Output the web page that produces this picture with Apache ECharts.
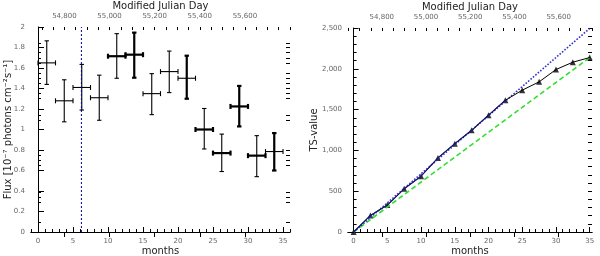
<!DOCTYPE html>
<html><head><meta charset="utf-8">
<script src="https://cdn.jsdelivr.net/npm/echarts@6/dist/echarts.min.js"></script>
<style>html,body{margin:0;padding:0;background:#fff}#c{width:600px;height:256px}</style>
</head><body><div id="c"></div>
<script>
// ---------- data: left panel (flux light curve) ----------
const binMonths = [1.25, 3.75, 6.25, 8.75, 11.25, 13.75, 16.25, 18.75, 21.25, 23.75, 26.25, 28.75, 31.25, 33.75];
const binHalfWidth = [1.25, 1.25, 1.25, 1.25, 1.25, 1.25, 1.25, 1.25, 1.25, 1.25, 1.25, 1.25, 1.25, 1.25];
const flux = [1.65, 1.28, 1.41, 1.31, 1.715, 1.73, 1.35, 1.565, 1.50, 1.00, 0.77, 1.225, 0.745, 0.785];
const fluxLow = [1.44, 1.075, 1.19, 1.09, 1.50, 1.505, 1.145, 1.36, 1.30, 0.81, 0.59, 1.03, 0.54, 0.60];
const fluxHigh = [1.865, 1.485, 1.635, 1.53, 1.935, 1.945, 1.545, 1.765, 1.72, 1.205, 0.955, 1.425, 0.94, 0.965];
const flareMonth = 6.2;
// style flags (bold bars)
const boldH = [0,0,0,0,1,1,0,0,0,1,1,1,1,0];
const boldV = [0,0,0,0,0,1,0,0,1,0,0,1,0,1];

// ---------- data: right panel (cumulative TS) ----------
const tsMonths = [0, 2.5, 5, 7.5, 10, 12.5, 15, 17.5, 20, 22.5, 25, 27.5, 30, 32.5, 35];
const tsValues = [0, 203, 330, 529, 684, 908, 1083, 1246, 1432, 1615, 1738, 1840, 1991, 2081, 2138];
const earlyCount = 10; // points drawn with the navy overlay
const fitSteep = [[0, 0], [35, 2495]];
const fitShallow = [[0, 0], [35, 2138]];

// ---------- tick labels ----------
const monthTicks = [0, 5, 10, 15, 20, 25, 30, 35];
const mjdLabels = [54800, 55000, 55200, 55400, 55600];
const fluxTicks = [0, 0.2, 0.4, 0.6, 0.8, 1, 1.2, 1.4, 1.6, 1.8, 2];
const fluxMinorTicks = [1.845, 1.8, 1.75, 1.70, 1.65, 1.546, 1.497, 1.449, 1.40, 1.351, 1.302, 1.14, 1.09, 0.80, 0.75, 0.70, 0.65, 0.39, 0.34, 0.295, 0.10];
const tsTicks = [0, 500, 1000, 1500, 2000, 2500];

const range = (a, b, s) => { const r = []; for (let v = a; v <= b + 1e-9; v += s) r.push(+v.toFixed(4)); return r; };
const fmtComma = v => String(Math.round(v)).replace(/\B(?=(\d{3})+(?!\d))/g, ',');

const FONT = 'DejaVu Sans';
const lbl = {fontSize: 7, color: '#666', fontFamily: FONT};
const nameStyle = {fontSize: 10, color: '#222', fontFamily: FONT};
const axLine = {show: true, lineStyle: {color: '#000', width: 1}};

function xAxes(grid, min, max, mjdMin, mjdMax, monthMinor) {
  return [
    {type: 'value', gridIndex: grid, position: 'bottom', min, max, name: 'months', nameLocation: 'middle', nameGap: 14, nameMoveOverlap: false, nameTextStyle: nameStyle,
     axisLine: axLine, splitLine: {show: false},
     axisLabel: Object.assign({customValues: monthTicks, margin: 6}, lbl),
     axisTick: {inside: true, length: 5, customValues: monthTicks, lineStyle: {color: '#000'}}},
    {type: 'value', gridIndex: grid, position: 'bottom', min, max, axisLine: {show: false}, splitLine: {show: false},
     axisLabel: {show: false}, axisTick: {inside: true, length: 3, customValues: monthMinor, lineStyle: {color: '#000'}}},
    {type: 'value', gridIndex: grid, position: 'top', min: mjdMin, max: mjdMax, name: 'Modified Julian Day', nameLocation: 'middle', nameGap: 16, nameMoveOverlap: false, nameTextStyle: nameStyle,
     axisLine: axLine, splitLine: {show: false},
     axisLabel: Object.assign({customValues: mjdLabels, margin: 7, formatter: fmtComma}, lbl),
     axisTick: {inside: true, length: 5, customValues: mjdLabels, lineStyle: {color: '#000'}}},
    {type: 'value', gridIndex: grid, position: 'top', min: mjdMin, max: mjdMax, axisLine: {show: false}, splitLine: {show: false},
     axisLabel: {show: false}, axisTick: {inside: true, length: 3, customValues: range(Math.ceil(mjdMin / 50) * 50, mjdMax, 50), lineStyle: {color: '#000'}}}
  ];
}

const option = {
  animation: false,
  backgroundColor: '#fff',
  grid: [
    {left: 31, top: 27, width: 259, height: 205, outerBoundsMode: 'none', containLabel: false},
    {left: 348, top: 28, width: 244, height: 204, outerBoundsMode: 'none', containLabel: false}
  ],
  xAxis: [
    ...xAxes(0, -1, 36, 54652, 55800, range(-1, 36, 1)),
    ...xAxes(1, -0.83, 35.34, 54647, 55751, range(0, 35, 1))
  ],
  yAxis: [
    {type: 'value', gridIndex: 0, position: 'left', min: 0, max: 2, name: 'Flux [10⁻⁷ photons cm⁻²s⁻¹]', nameLocation: 'middle', nameGap: 18, nameMoveOverlap: false, nameTextStyle: nameStyle,
     axisLine: axLine, splitLine: {show: false},
     axisLabel: Object.assign({customValues: fluxTicks, margin: 6, formatter: v => String(+v.toFixed(1))}, lbl),
     axisTick: {inside: true, length: 6, customValues: fluxTicks, lineStyle: {color: '#000'}}},
    {type: 'value', gridIndex: 0, position: 'left', min: 0, max: 2, axisLine: {show: false}, splitLine: {show: false},
     axisLabel: {show: false}, axisTick: {inside: true, length: 3, customValues: fluxMinorTicks, lineStyle: {color: '#000'}}},
    {type: 'value', gridIndex: 0, position: 'right', min: 0, max: 2, axisLine: {show: false}, splitLine: {show: false},
     axisLabel: {show: false}, axisTick: {inside: true, length: 4, customValues: fluxMinorTicks, lineStyle: {color: '#000'}}},
    {type: 'value', gridIndex: 1, position: 'left', min: 0, max: 2500, name: 'TS-value', nameLocation: 'middle', nameGap: 29, nameMoveOverlap: false, nameTextStyle: nameStyle,
     axisLine: axLine, splitLine: {show: false},
     axisLabel: Object.assign({customValues: tsTicks, margin: 6, formatter: fmtComma}, lbl),
     axisTick: {inside: true, length: 5, customValues: tsTicks, lineStyle: {color: '#000'}}},
    {type: 'value', gridIndex: 1, position: 'left', min: 0, max: 2500, axisLine: {show: false}, splitLine: {show: false},
     axisLabel: {show: false}, axisTick: {inside: true, length: 3, customValues: range(0, 2500, 100), lineStyle: {color: '#000'}}},
    {type: 'value', gridIndex: 1, position: 'right', min: 0, max: 2500, axisLine: {show: false}, splitLine: {show: false},
     axisLabel: {show: false}, axisTick: {inside: true, length: 4, customValues: range(0, 2500, 100), lineStyle: {color: '#000'}}}
  ],
  series: [
    {type: 'line', xAxisIndex: 0, yAxisIndex: 0, data: [[flareMonth, 0], [flareMonth, 2]], symbol: 'none',
     lineStyle: {color: '#000090', width: 1, type: [2, 2]}, silent: true},
    {type: 'custom', xAxisIndex: 0, yAxisIndex: 0,
     data: binMonths.map((m, i) => [m, flux[i], fluxLow[i], fluxHigh[i], binHalfWidth[i]]),
     renderItem: (params, api) => {
       const i = params.dataIndex;
       const x = api.value(0), y = api.value(1), lo = api.value(2), hi = api.value(3), hw = api.value(4);
       const L = api.coord([x - hw, y]), R = api.coord([x + hw, y]);
       const T = api.coord([x, hi]), B = api.coord([x, lo]);
       const wh = boldH[i] ? 2.2 : 1.1, wv = boldV[i] ? 2.2 : 1.1;
       const cap = 2.2, vcap = 2.5;
       const ln = (x1, y1, x2, y2, w) => ({type: 'line', shape: {x1, y1, x2, y2}, style: {stroke: '#000', lineWidth: w}});
       return {type: 'group', children: [
         ln(L[0], L[1], R[0], R[1], wh),
         ln(L[0], L[1] - vcap, L[0], L[1] + vcap, wh),
         ln(R[0], R[1] - vcap, R[0], R[1] + vcap, wh),
         ln(T[0], T[1], B[0], B[1], wv),
         ln(T[0] - cap, T[1], T[0] + cap, T[1], wv),
         ln(B[0] - cap, B[1], B[0] + cap, B[1], wv)
       ]};
     }},
    {type: 'line', xAxisIndex: 4, yAxisIndex: 3, data: fitShallow, symbol: 'none',
     lineStyle: {color: '#33dd33', width: 1.6, type: [5, 3]}, silent: true},
    {type: 'line', xAxisIndex: 4, yAxisIndex: 3, data: fitSteep, symbol: 'none',
     lineStyle: {color: '#3333cc', width: 1.6, type: [1.6, 1.6]}, silent: true},
    {type: 'line', xAxisIndex: 4, yAxisIndex: 3, data: tsMonths.map((m, i) => [m, tsValues[i]]), symbol: 'none',
     lineStyle: {color: '#000', width: 1}, silent: true},
    {type: 'line', xAxisIndex: 4, yAxisIndex: 3, data: tsMonths.slice(0, earlyCount).map((m, i) => [m, tsValues[i]]), symbol: 'none',
     lineStyle: {color: '#1a1a70', width: 1.2}, silent: true},
    {type: 'scatter', xAxisIndex: 4, yAxisIndex: 3, data: tsMonths.map((m, i) => [m, tsValues[i]]), symbol: 'triangle', symbolSize: 6,
     itemStyle: {color: '#000'}, silent: true}
  ]
};
echarts.init(document.getElementById('c')).setOption(option);
</script></body></html>
